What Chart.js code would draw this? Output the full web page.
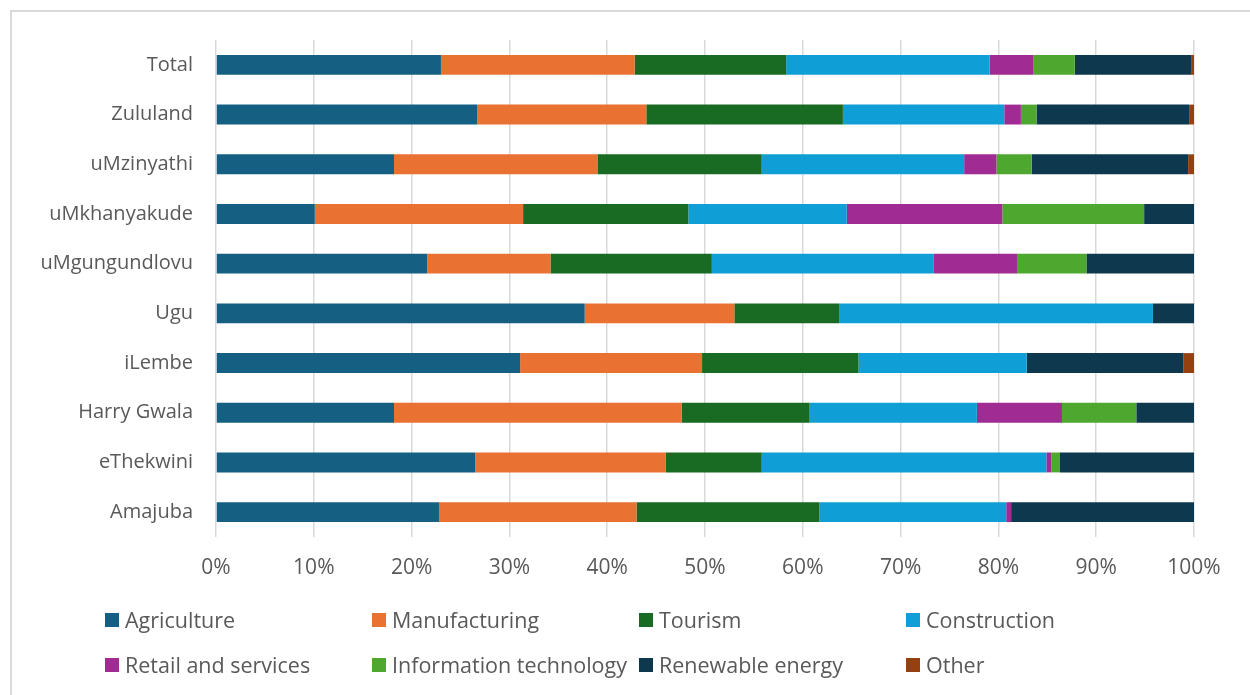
<!DOCTYPE html>
<html>
<head>
<meta charset="utf-8">
<script src="https://cdn.jsdelivr.net/npm/chart.js@4"></script>
<style>
  html, body { margin: 0; padding: 0; background: #fff; }
  #wrap { position: relative; width: 1250px; height: 695px; overflow: hidden; }
  #frame { position: absolute; left: 10px; top: 10px; width: 1260px; height: 720px;
           border-top: 2px solid #d9d9d9; border-left: 2px solid #d9d9d9; box-sizing: border-box; }
  #sector-chart { position: absolute; left: 0; top: 0; }
  #legend { position: absolute; left: 105px; top: 597px; width: 1100px;
            display: flex; flex-wrap: wrap; font-family: "Open Sans", sans-serif;
            font-size: 21.5px; color: #595959; }
  .item { width: 267px; height: 45px; display: flex; align-items: center; white-space: nowrap; }
  .swatch { width: 14px; height: 14px; margin-right: 6px; flex: none; }
</style>
</head>
<body>
<div id="wrap">
  <div id="frame"></div>
  <canvas id="sector-chart" width="1250" height="695"></canvas>
  <div id="legend"></div>
</div>
<script>
// Share of businesses by sector per district (percent, rows add to 100)
const districts = ['Total', 'Zululand', 'uMzinyathi', 'uMkhanyakude', 'uMgungundlovu',
                   'Ugu', 'iLembe', 'Harry Gwala', 'eThekwini', 'Amajuba'];

const agriculture   = [23.0, 26.7, 18.2, 10.1, 21.6, 37.7, 31.1, 18.2, 26.5, 22.8];
const manufacturing = [19.8, 17.3, 20.8, 21.3, 12.6, 15.3, 18.6, 29.4, 19.5, 20.2];
const tourism       = [15.5, 20.1, 16.8, 16.9, 16.5, 10.7, 16.0, 13.1,  9.8, 18.7];
const construction  = [20.8, 16.5, 20.7, 16.2, 22.7, 32.1, 17.2, 17.1, 29.1, 19.1];
const retail        = [ 4.5,  1.7,  3.3, 15.9,  8.5,  0.0,  0.0,  8.7,  0.5,  0.5];
const infoTech      = [ 4.2,  1.6,  3.6, 14.5,  7.1,  0.0,  0.0,  7.6,  0.9,  0.0];
const renewable     = [11.9, 15.6, 16.0,  5.1, 11.0,  4.2, 16.0,  5.9, 13.7, 18.7];
const other         = [ 0.3,  0.5,  0.6,  0.0,  0.0,  0.0,  1.1,  0.0,  0.0,  0.0];

const xTicks = [0, 10, 20, 30, 40, 50, 60, 70, 80, 90, 100];

const textColor = '#595959';
const gridColor = '#d9d9d9';
const fontFamily = '"Open Sans", sans-serif';

const series = [
  { label: 'Agriculture', data: agriculture, color: '#156082' },
  { label: 'Manufacturing', data: manufacturing, color: '#E97132' },
  { label: 'Tourism', data: tourism, color: '#196B24' },
  { label: 'Construction', data: construction, color: '#0F9ED5' },
  { label: 'Retail and services', data: retail, color: '#A02B93' },
  { label: 'Information technology', data: infoTech, color: '#4EA72E' },
  { label: 'Renewable energy', data: renewable, color: '#0E384D' },
  { label: 'Other', data: other, color: '#96400F' },
];

const chart = new Chart(document.getElementById('sector-chart').getContext('2d'), {
  type: 'bar',
  data: {
    labels: districts,
    datasets: series.map(s => ({
      label: s.label, data: s.data, backgroundColor: s.color,
      borderWidth: 0, categoryPercentage: 0.8, barPercentage: 0.5,
    })),
  },
  options: {
    indexAxis: 'y',
    responsive: false, maintainAspectRatio: false, animation: false,
    layout: { padding: { top: 40, right: 56, left: 0, bottom: 0 } },
    plugins: { legend: { display: false }, tooltip: { enabled: false } },
    scales: {
      x: {
        stacked: true, min: 0, max: 100,
        afterBuildTicks: (scale) => { scale.ticks = xTicks.map(v => ({ value: v })); },
        afterFit: (scale) => { scale.height = 158; },
        ticks: { color: textColor, font: { family: fontFamily, size: 21 }, padding: 18,
                 callback: (value) => value + '%' },
        grid: { color: gridColor, lineWidth: 1.5, drawTicks: false },
        border: { display: false },
      },
      y: {
        stacked: true,
        afterFit: (scale) => { scale.width = 216; },
        ticks: { color: textColor, font: { family: fontFamily, size: 20 }, padding: 23 },
        grid: { display: false, drawTicks: false },
        border: { display: false },
      },
    },
  },
});

// Legend laid out in four fixed columns
const legendEl = document.getElementById('legend');
chart.data.datasets.forEach(ds => {
  const item = document.createElement('div');
  item.className = 'item';
  const swatch = document.createElement('span');
  swatch.className = 'swatch';
  swatch.style.background = ds.backgroundColor;
  const text = document.createElement('span');
  text.textContent = ds.label;
  item.appendChild(swatch);
  item.appendChild(text);
  legendEl.appendChild(item);
});
</script>
</body>
</html>
